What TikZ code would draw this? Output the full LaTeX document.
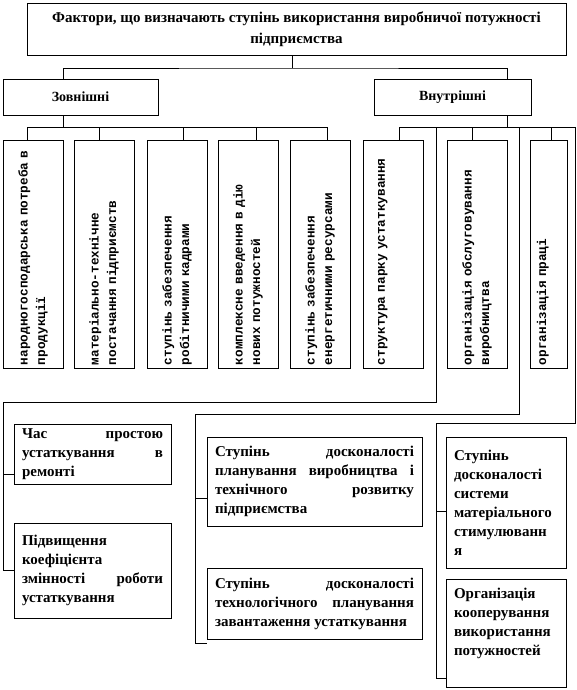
\documentclass[tikz,border=0pt]{standalone}
\usepackage{fontspec}
\setmainfont{Liberation Serif}
\newfontfamily\vertfont{Liberation Mono}
\tikzset{
  headbox/.style={draw, align=center, font=\bfseries\fontsize{15}{20.5}\selectfont},
  groupbox/.style={draw, minimum height=36pt, font=\bfseries\fontsize{14}{20}\selectfont},
  vertbox/.style={draw, rotate=90, align=left, text width=222pt, inner xsep=3pt,
    minimum height=60pt, font=\vertfont\bfseries\fontsize{12.7}{17.5}\selectfont},
  factbox/.style={draw, align=justify, inner xsep=8pt,
    font=\bfseries\fontsize{15}{19}\selectfont}
}

\begin{document}
\begin{tikzpicture}[x=1pt, y=-1pt, line width=0.9pt]
\useasboundingbox (0,0) rectangle (576,690);

\node[headbox, minimum width=539pt, minimum height=52pt] (title) at (296.5,29)
  {Фактори, що визначають ступінь використання виробничої потужності\\підприємства};
\node[groupbox, minimum width=155pt] (zov) at (80.5,97) {Зовнішні};
\node[groupbox, minimum width=157pt] (vnu) at (452.5,97) {Внутрішні};

\node[vertbox] (v1) at (33,254) {народногосподарська потреба в\\продукції};
\node[vertbox] (v2) at (104,254) {матеріально-технічне\\постачання підприємств};
\node[vertbox] (v3) at (177,254) {ступінь забезпечення\\робітничими кадрами};
\node[vertbox] (v4) at (248,254) {комплексне введення в дію\\нових потужностей};
\node[vertbox] (v5) at (320,254) {ступінь забезпечення\\енергетичними ресурсами};
\node[vertbox, text depth=23pt] (v6) at (393,254) {структура парку устаткування};
\node[vertbox] (v7) at (477,254) {організація обслуговування\\виробництва};
\node[vertbox, text depth=14pt, minimum height=37pt] (v8) at (548.5,254) {організація праці};

\node[factbox, text width=141pt, minimum height=60pt] (cas) at (92.5,454)
  {Час простою\linebreak устаткування в\linebreak ремонті};
\node[factbox, text width=141pt, minimum height=95pt] (pidv) at (92.5,570.5)
  {Підвищення\\коефіцієнта\\змінності роботи\linebreak устаткування};
\node[factbox, text width=199pt, minimum height=89pt] (st1) at (314.5,481.5)
  {Ступінь досконалості\linebreak планування виробництва і\linebreak технічного розвитку\linebreak підприємства};
\node[factbox, text width=199pt, minimum height=71pt] (st2) at (314.5,603.5)
  {Ступінь досконалості\linebreak технологічного планування\linebreak завантаження устаткування};
\node[factbox, text width=104pt, minimum height=131pt] (sys) at (506,502.5)
  {Ступінь\\досконалості\\системи\\матеріального\\стимулюванн\\я};
\node[factbox, text width=104pt, minimum height=108pt] (org) at (506,633)
  {Організація\\кооперування\\використання\\потужностей\\[4pt]};

\coordinate (tj) at (292,68);
\coordinate (zj) at (63,127);
\coordinate (vj) at (507,127);

\draw (title.south -| tj) -- (tj);
\draw ([xshift=-17.5pt]zov.north) |- (tj) -| ([xshift=54.5pt]vnu.north);
\draw ([xshift=-17.5pt]zov.south) -- (zj);
\draw ([xshift=54.5pt]vnu.south) -- (vj);
\foreach \b/\s in {v1/-6, v2/-5, v3/6, v4/8, v5/7}
  \draw ([xshift=\s pt]\b.east) |- (zj);
\foreach \b/\s in {v6/6, v7/-5, v8/2.5}
  \draw ([xshift=\s pt]\b.east) |- (vj);

\draw (pidv.west) -| (3,402) -| (436,127);
\draw ([yshift=-20pt]cas.west) -- ++(-11,0);
\draw ([yshift=-4pt]st2.south west) -| (195,414) -| (519,127);
\draw ([yshift=-16.5pt]st1.west) -- ++(-12,0);
\draw ([yshift=-45pt]org.west) -| (436,423) -| (575,127) -- (vj);
\draw ([yshift=-8.5pt]sys.west) -- ++(-10,0);
\end{tikzpicture}
\end{document}
